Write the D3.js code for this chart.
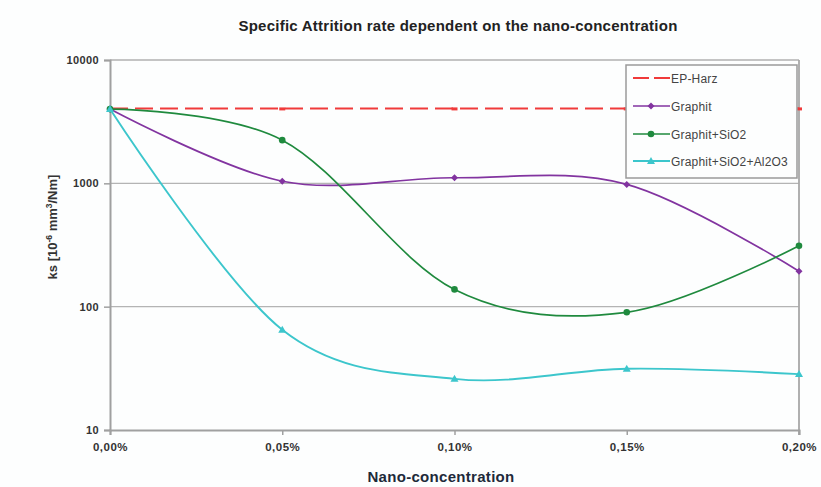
<!DOCTYPE html>
<html><head><meta charset="utf-8">
<script src="https://cdn.jsdelivr.net/npm/d3@7/dist/d3.min.js"></script>
<style>html,body{margin:0;padding:0;background:#fdfefe;}svg{display:block;}</style>
</head><body>
<script>
const categories = ["0,00%", "0,05%", "0,10%", "0,15%", "0,20%"];
const seriesNames = ["EP-Harz", "Graphit", "Graphit+SiO2", "Graphit+SiO2+Al2O3"];
const epHarz   = [4050, 4050, 4050, 4050, 4050];
const graphit  = [4000, 1040, 1110, 980, 194];
const graphitSiO2 = [4000, 2240, 138, 90, 312];
const graphitSiO2Al2O3 = [4000, 65, 26, 31.4, 28.4];
const yTicks = [10, 100, 1000, 10000];
const gridValues = [100, 1000];

(function () {
const W = 821, H = 487;
const svg = d3.select("body").append("svg").attr("width", W).attr("height", H);
svg.append("rect").attr("width", W).attr("height", H).attr("fill", "#fdfefe");

const pLeft = 110, pRight = 799, pTop = 60, pBottom = 430;
const x = d3.scalePoint().domain(categories).range([pLeft, pRight]);
const y = d3.scaleLog().domain([10, 10000]).range([pBottom, pTop]);

const font = "'Liberation Sans', Arial, sans-serif";

// title
svg.append("text").attr("x", 458).attr("y", 31).attr("text-anchor", "middle")
  .attr("font-family", font).attr("font-weight", "bold").attr("font-size", 15)
  .attr("letter-spacing", 0.25)
  .attr("fill", "#222").text("Specific Attrition rate dependent on the nano-concentration");

// gridlines
svg.append("g").selectAll("line").data(gridValues).join("line")
  .attr("x1", pLeft).attr("x2", pRight).attr("y1", d => y(d)).attr("y2", d => y(d))
  .attr("stroke", "#b4b4b4").attr("stroke-width", 1.2);

// frame top & right
svg.append("line").attr("x1", pLeft).attr("x2", pRight).attr("y1", y(10000)).attr("y2", y(10000))
  .attr("stroke", "#b0b0b0").attr("stroke-width", 1.5);
svg.append("line").attr("x1", pRight).attr("x2", pRight).attr("y1", pTop).attr("y2", pBottom + 5)
  .attr("stroke", "#a8a8a8").attr("stroke-width", 1.8);

// axes
const yAxis = d3.axisLeft(y).tickValues(yTicks).tickFormat(d3.format("d")).tickSize(6).tickPadding(5);
const gy = svg.append("g").attr("transform", `translate(${pLeft},0)`).call(yAxis);
gy.select(".domain").attr("stroke", "#a0a0a0").attr("stroke-width", 2);
gy.selectAll(".tick line").attr("stroke", "#a0a0a0").attr("stroke-width", 1.5);
gy.selectAll(".tick text").attr("font-family", font).attr("font-weight", "bold").attr("font-size", 11)
  .attr("letter-spacing", 0.4).attr("fill", "#333");

const xAxis = d3.axisBottom(x).tickSize(5).tickPadding(8);
const gx = svg.append("g").attr("transform", `translate(0,${pBottom})`).call(xAxis);
gx.select(".domain").attr("stroke", "#a0a0a0").attr("stroke-width", 2);
gx.selectAll(".tick line").attr("stroke", "#a0a0a0").attr("stroke-width", 1.5);
gx.selectAll(".tick text").attr("font-family", font).attr("font-weight", "bold").attr("font-size", 11.5)
  .attr("letter-spacing", 0.5).attr("fill", "#333");

// axis titles
svg.append("text").attr("x", 441).attr("y", 482).attr("text-anchor", "middle")
  .attr("font-family", font).attr("font-weight", "bold").attr("font-size", 15)
  .attr("letter-spacing", 0.3)
  .attr("fill", "#1e2a3a").text("Nano-concentration");

const yl = svg.append("text").attr("transform", "translate(57,227) rotate(-90)").attr("text-anchor", "middle")
  .attr("font-family", font).attr("font-weight", "bold").attr("font-size", 13).attr("fill", "#333");
yl.append("tspan").text("ks [10");
yl.append("tspan").attr("dy", -5).attr("font-size", 8.5).text("-6");
yl.append("tspan").attr("dy", 5).text(" mm");
yl.append("tspan").attr("dy", -5).attr("font-size", 8.5).text("3");
yl.append("tspan").attr("dy", 5).text("/Nm]");

// series
const series = [
  {name: seriesNames[0], values: epHarz, color: "#f03a3a", dash: "18,7", marker: "dash", width: 2},
  {name: seriesNames[1], values: graphit, color: "#8234a0", dash: null, marker: "diamond", width: 1.7},
  {name: seriesNames[2], values: graphitSiO2, color: "#1f8a3e", dash: null, marker: "circle", width: 1.7},
  {name: seriesNames[3], values: graphitSiO2Al2O3, color: "#3cc6cc", dash: null, marker: "triangle", width: 1.9}
];

const line = d3.line().x(d => x(d.c)).y(d => y(d.v)).curve(d3.curveCatmullRom.alpha(0));
const line2 = d3.line().x(d => x(d.c)).y(d => y(d.v));

function drawMarker(g, type, cx, cy, color) {
  if (type === "dash") {
    g.append("rect").attr("x", cx - 3).attr("y", cy - 1).attr("width", 6).attr("height", 3).attr("fill", color);
  } else if (type === "diamond") {
    g.append("path").attr("d", `M${cx},${cy-3.5}L${cx+3.5},${cy}L${cx},${cy+3.5}L${cx-3.5},${cy}Z`).attr("fill", color);
  } else if (type === "circle") {
    g.append("circle").attr("cx", cx).attr("cy", cy).attr("r", 3.3).attr("fill", color);
  } else if (type === "triangle") {
    g.append("path").attr("d", `M${cx},${cy-4}L${cx+4},${cy+3}L${cx-4},${cy+3}Z`).attr("fill", color);
  }
}

series.forEach(s => {
  const pts = s.values.map((v, i) => ({c: categories[i], v}));
  const g = svg.append("g");
  g.append("path").datum(pts).attr("d", s.dash ? line2 : line).attr("fill", "none")
    .attr("stroke", s.color).attr("stroke-width", s.width).attr("stroke-dasharray", s.dash);
  pts.forEach(p => drawMarker(g, s.marker, x(p.c), y(p.v), s.color));
});

// legend
const lg = svg.append("g");
lg.append("rect").attr("x", 626).attr("y", 65).attr("width", 171).attr("height", 113)
  .attr("fill", "#fdfefe").attr("stroke", "#9a9a9a").attr("stroke-width", 1.5);
const legendY = [78, 106, 134, 161];
series.forEach((s, i) => {
  const ly = legendY[i];
  lg.append("line").attr("x1", 633).attr("x2", 670).attr("y1", ly).attr("y2", ly)
    .attr("stroke", s.color).attr("stroke-width", s.width).attr("stroke-dasharray", s.dash ? "16,5" : null);
  if (s.marker !== "dash") drawMarker(lg, s.marker, 651, ly, s.color);
  lg.append("text").attr("x", 671).attr("y", ly + 4.5).attr("font-family", font).attr("font-size", 12)
    .attr("letter-spacing", 0.2).attr("fill", "#444").text(s.name);
});
})();
</script>
</body></html>
